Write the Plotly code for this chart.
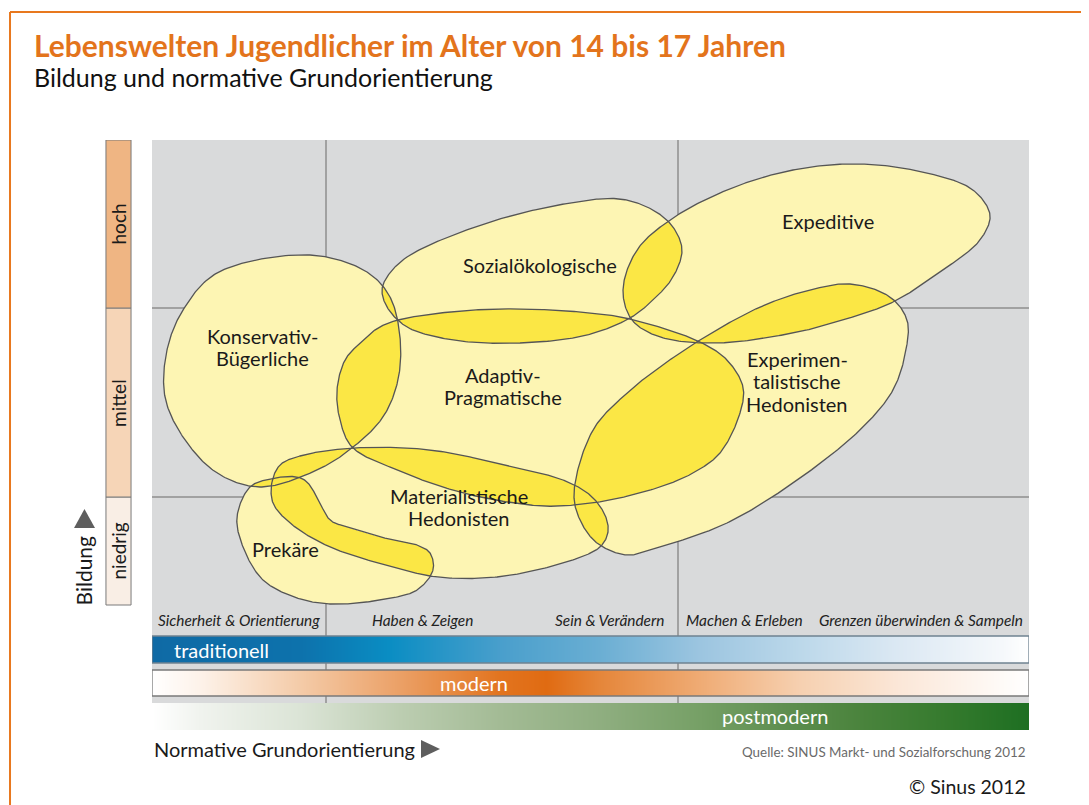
import numpy as np
import plotly.graph_objects as go

# ---------------- data ----------------
# axis units: x = normative orientation (0..877), y = Bildung (0 = bottom of "niedrig", 465 = top of "hoch")
orientation_edges = [0, 174, 526, 877]          # traditionell | modern | postmodern
bildung_levels = ["niedrig", "mittel", "hoch"]
bildung_edges = [0, 108, 297, 465]
bildung_colors = ["#f9eee5", "#f6d5b7", "#efb583"]

value_labels = ["Sicherheit & Orientierung", "Haben & Zeigen", "Sein & Verändern",
                "Machen & Erleben", "Grenzen überwinden & Sampeln"]
value_label_x = [87, 270, 457, 592, 769]

# milieu outlines (control points of smooth closed curves)
konservativ = [(158, 350), (215, 333), (238, 308), (248, 268), (246, 225), (231, 188), (200, 157),
               (165, 135), (108, 118), (65, 132), (31, 168), (13, 208), (15, 255), (31, 295), (65, 332)]
sozialoeko = [(255, 348), (335, 382), (418, 402), (468, 406), (501, 395), (521, 378), (530, 355),
              (521, 328), (501, 305), (478, 287), (435, 270), (368, 262), (301, 265), (255, 278),
              (235, 298), (230, 315), (235, 328)]
expeditive = [(471, 315), (485, 355), (518, 385), (575, 415), (641, 435), (708, 441), (775, 432),
              (821, 415), (838, 390), (828, 365), (791, 335), (741, 303), (691, 285), (641, 272),
              (565, 262), (508, 268), (480, 285)]
experimental = [(698, 321), (738, 308), (755, 285), (754, 255), (741, 215), (708, 175), (641, 122),
                (575, 82), (508, 58), (475, 50), (445, 62), (428, 85), (422, 112), (441, 175),
                (475, 212), (508, 238), (548, 265), (608, 298), (658, 315)]
adaptiv = [(246, 285), (308, 294), (368, 296), (428, 293), (478, 286), (548, 263), (575, 245),
           (591, 218), (588, 192), (568, 152), (541, 132), (508, 118), (458, 105), (408, 99),
           (378, 100), (311, 112), (245, 135), (200, 158), (188, 185), (185, 215), (193, 245),
           (208, 262), (226, 277)]
materialist = [(120, 123), (128, 140), (148, 149), (201, 157), (278, 155), (361, 138), (411, 125),
               (438, 110), (453, 90), (456, 73), (448, 58), (411, 42), (345, 28), (285, 28),
               (245, 37), (178, 58), (138, 82), (121, 102)]
prekaere = [(98, 118), (118, 126), (145, 128), (155, 123), (165, 108), (178, 85), (195, 78),
            (228, 68), (265, 60), (278, 52), (281, 35), (265, 15), (228, 5), (178, 1), (145, 7),
            (111, 25), (91, 58), (85, 88)]

milieu_shapes = [konservativ, sozialoeko, expeditive, experimental, adaptiv, materialist, prekaere]
milieu_names = ["Konservativ-<br>Bügerliche", "Sozialökologische", "Expeditive",
                "Experimen-<br>talistische<br>Hedonisten", "Adaptiv-<br>Pragmatische",
                "Materialistische<br>Hedonisten", "Prekäre"]
milieu_label_x = [110, 388, 676, 645, 351, 307, 133]
milieu_label_y = [258, 340, 384, 224, 219, 98, 56]

orientation_names = ["traditionell", "modern", "postmodern"]

# ---------------- helpers ----------------
def catmull_rom_closed(pts, n=30, alpha=0.5):
    P = np.array(pts, float)
    N = len(P)
    out = []
    for i in range(N):
        p0, p1, p2, p3 = P[(i - 1) % N], P[i], P[(i + 1) % N], P[(i + 2) % N]
        t0 = 0.0
        t1 = t0 + np.linalg.norm(p1 - p0) ** alpha
        t2 = t1 + np.linalg.norm(p2 - p1) ** alpha
        t3 = t2 + np.linalg.norm(p3 - p2) ** alpha
        t = np.linspace(t1, t2, n, endpoint=False)[:, None]
        A1 = (t1 - t) / (t1 - t0) * p0 + (t - t0) / (t1 - t0) * p1
        A2 = (t2 - t) / (t2 - t1) * p1 + (t - t1) / (t2 - t1) * p2
        A3 = (t3 - t) / (t3 - t2) * p2 + (t - t2) / (t3 - t2) * p3
        B1 = (t2 - t) / (t2 - t0) * A1 + (t - t0) / (t2 - t0) * A2
        B2 = (t3 - t) / (t3 - t1) * A2 + (t - t1) / (t3 - t1) * A3
        out.append((t2 - t) / (t2 - t1) * B1 + (t - t1) / (t2 - t1) * B2)
    C = np.vstack(out)
    return np.vstack([C, C[:1]])


def inside_mask(poly, xc, yc):
    x1, y1 = poly[:-1, 0], poly[:-1, 1]
    x2, y2 = poly[1:, 0], poly[1:, 1]
    mask = np.zeros((len(yc), len(xc)), bool)
    for j, y in enumerate(yc):
        cond = ((y1 <= y) & (y2 > y)) | ((y2 <= y) & (y1 > y))
        if not cond.any():
            continue
        xi = x1[cond] + (y - y1[cond]) * (x2[cond] - x1[cond]) / (y2[cond] - y1[cond])
        xi.sort()
        mask[j] = (np.searchsorted(xi, xc) % 2) == 1
    return mask


X0, X1 = orientation_edges[0], orientation_edges[-1]
Y0, Y1 = bildung_edges[0], bildung_edges[-1]
GRAY_BOTTOM = -98

polys = [catmull_rom_closed(p) for p in milieu_shapes]
xe = np.arange(X0, X1 + 1)
ye = np.arange(Y0, Y1 + 1)
xc = xe[:-1] + 0.5
yc = ye[:-1] + 0.5
count = np.zeros((len(yc), len(xc)), np.int32)
for p in polys:
    count += inside_mask(p, xc, yc)
z = np.minimum(count, 2).astype(np.float32)
z[z == 0] = np.nan

PALE = "#fdf5b3"
DARK = "#fbe745"
OUTLINE = "#555555"
GRID = "#8e8e8e"

fig = go.Figure()

# gradient bars
bars = [
    ("traditionell", -58, -31, [[0, "#0f6aa5"], [0.17, "#0d72ac"], [0.27, "#0a8dc3"], [0.40, "#4a9fcc"],
                                 [0.51, "#6aaed3"], [0.625, "#9cc5e0"], [0.74, "#bcd8ea"], [0.85, "#dbe8f3"],
                                 [0.97, "#f5f8fb"], [1, "#ffffff"]]),
    ("modern", -91, -65, [[0, "#ffffff"], [0.055, "#fdf2e9"], [0.169, "#f4cba8"], [0.283, "#eba066"],
                          [0.397, "#e2741f"], [0.45, "#e06b12"], [0.511, "#e5863a"], [0.625, "#efab74"],
                          [0.739, "#f6d0b0"], [0.853, "#fbe7d8"], [1, "#ffffff"]]),
    ("postmodern", -125, -98, [[0, "#ffffff"], [0.055, "#f0f3ee"], [0.169, "#dbe4d6"], [0.283, "#bccdb1"],
                               [0.397, "#a3bb95"], [0.511, "#8fae80"], [0.625, "#76a066"], [0.716, "#5f8f51"],
                               [0.796, "#4d853f"], [0.91, "#347a2d"], [1, "#1e6f22"]]),
]
for name, yb, yt, cs in bars:
    fig.add_trace(go.Heatmap(x=xe, y=[yb, yt], z=[np.linspace(0, 1, len(xc))], colorscale=cs,
                             zmin=0, zmax=1, showscale=False, hoverinfo="skip", zsmooth=False))

# milieu fills (1 = single, 2 = overlap)
fig.add_trace(go.Heatmap(x=xe, y=ye, z=z, zmin=0, zmax=2, showscale=False, hoverinfo="skip",
                         zsmooth=False,
                         colorscale=[[0, PALE], [0.75, PALE], [0.75, DARK], [1, DARK]]))

for p in polys:
    fig.add_trace(go.Scatter(x=p[:, 0], y=p[:, 1], mode="lines", line=dict(color=OUTLINE, width=1.3),
                             hoverinfo="skip", showlegend=False))

shapes = []
shapes.append(dict(type="rect", xref="x", yref="y", x0=X0, x1=X1, y0=GRAY_BOTTOM, y1=Y1,
                   fillcolor="#d9dadb", line_width=0, layer="below"))
for xv in orientation_edges[1:-1]:
    shapes.append(dict(type="line", xref="x", yref="y", x0=xv, x1=xv, y0=GRAY_BOTTOM, y1=Y1,
                       line=dict(color=GRID, width=1.5), layer="below"))
for yv in bildung_edges[1:-1]:
    shapes.append(dict(type="line", xref="x", yref="y", x0=X0, x1=X1, y0=yv, y1=yv,
                       line=dict(color=GRID, width=1.5), layer="below"))
# bar borders
shapes.append(dict(type="rect", xref="x", yref="y", x0=X0, x1=X1, y0=-58, y1=-31,
                   line=dict(color="#6f8291", width=1.3), fillcolor="rgba(0,0,0,0)"))
shapes.append(dict(type="rect", xref="x", yref="y", x0=X0, x1=X1, y0=-91, y1=-65,
                   line=dict(color="#7a7a7a", width=1.3), fillcolor="rgba(0,0,0,0)"))
# Bildung bar
for lvl, c, b0, b1 in zip(bildung_levels, bildung_colors, bildung_edges[:-1], bildung_edges[1:]):
    shapes.append(dict(type="rect", xref="paper", yref="y", x0=-0.0525, x1=-0.0239, y0=b0, y1=b1,
                       fillcolor=c, line=dict(color="#7a7a7a", width=1)))
# triangles
shapes.append(dict(type="path", xref="paper", yref="paper",
                   path="M -0.0889,0.3424 L -0.0650,0.3424 L -0.0770,0.3746 Z",
                   fillcolor="#5e5e5e", line_width=0))
shapes.append(dict(type="path", xref="paper", yref="paper",
                   path="M 0.3067,-0.0170 L 0.3067,-0.0475 L 0.3284,-0.0322 Z",
                   fillcolor="#5e5e5e", line_width=0))
# orange frame
shapes.append(dict(type="line", xref="paper", yref="paper", x0=-0.1619, x1=1.07, y0=1.2169, y1=1.2169,
                   line=dict(color="#e8781e", width=2)))
shapes.append(dict(type="line", xref="paper", yref="paper", x0=-0.1619, x1=-0.1619, y0=1.2169, y1=-0.13,
                   line=dict(color="#e8781e", width=2)))

ann = []
FONT = "Lato"
LINE_STEP = 22.5


def A(**kw):
    kw.setdefault("showarrow", False)
    kw.setdefault("xanchor", "center")
    kw.setdefault("yanchor", "middle")
    ann.append(kw)


for name, x, y in zip(milieu_names, milieu_label_x, milieu_label_y):
    lines = name.split("<br>")
    n = len(lines)
    for k, line in enumerate(lines):
        A(x=x, y=y + (n - 1) / 2 * LINE_STEP - k * LINE_STEP, xref="x", yref="y", text=line,
          font=dict(family=FONT, size=20, color="#1a1a1a"))
for lbl, x in zip(value_labels, value_label_x):
    A(x=x, y=-15, xref="x", yref="y", text="<i>" + lbl + "</i>",
      font=dict(family=FONT, size=15.4, color="#222222"))
A(x=20, y=-45, xref="x", yref="y", text=orientation_names[0], xanchor="left",
  font=dict(family=FONT, size=20, color="white"))
A(x=322, y=-78, xref="x", yref="y", text=orientation_names[1],
  font=dict(family=FONT, size=20, color="white"))
A(x=623, y=-111, xref="x", yref="y", text=orientation_names[2],
  font=dict(family=FONT, size=20, color="white"))
for lvl, b0, b1 in zip(bildung_levels, bildung_edges[:-1], bildung_edges[1:]):
    A(x=-0.0382, y=(b0 + b1) / 2, xref="paper", yref="y", text=lvl, textangle=-90,
      font=dict(family=FONT, size=19, color="#1a1a1a"))
A(x=-0.0770, y=0.2712, xref="paper", yref="paper", text="Bildung", textangle=-90,
  font=dict(family=FONT, size=21, color="#1a1a1a"))
A(x=0.0, y=-0.0322, xref="paper", yref="paper", text="Normative Grundorientierung",
  xanchor="left", font=dict(family=FONT, size=20, color="#1a1a1a"))
A(x=0.999, y=-0.0373, xref="paper", yref="paper",
  text="Quelle: SINUS Markt- und Sozialforschung 2012", xanchor="right",
  font=dict(family=FONT, size=13.4, color="#6a6a6a"))
A(x=0.999, y=-0.0966, xref="paper", yref="paper", text="© Sinus 2012", xanchor="right",
  font=dict(family=FONT, size=19.5, color="#1a1a1a"))
A(x=-0.1368, y=1.161, xref="paper", yref="paper",
  text="<b>Lebenswelten Jugendlicher im Alter von 14 bis 17 Jahren</b>", xanchor="left",
  font=dict(family=FONT, size=30, color="#e3741c"))
A(x=-0.1368, y=1.1068, xref="paper", yref="paper",
  text="Bildung und normative Grundorientierung", xanchor="left",
  font=dict(family=FONT, size=25, color="#111111"))

fig.update_layout(
    width=1081, height=797,
    margin=dict(l=144, r=60, t=132, b=75),
    paper_bgcolor="white", plot_bgcolor="white",
    xaxis=dict(range=[X0, X1], visible=False, fixedrange=True),
    yaxis=dict(range=[-125, Y1], visible=False, fixedrange=True),
    shapes=shapes, annotations=ann, showlegend=False,
)

fig.write_html("out.html")
